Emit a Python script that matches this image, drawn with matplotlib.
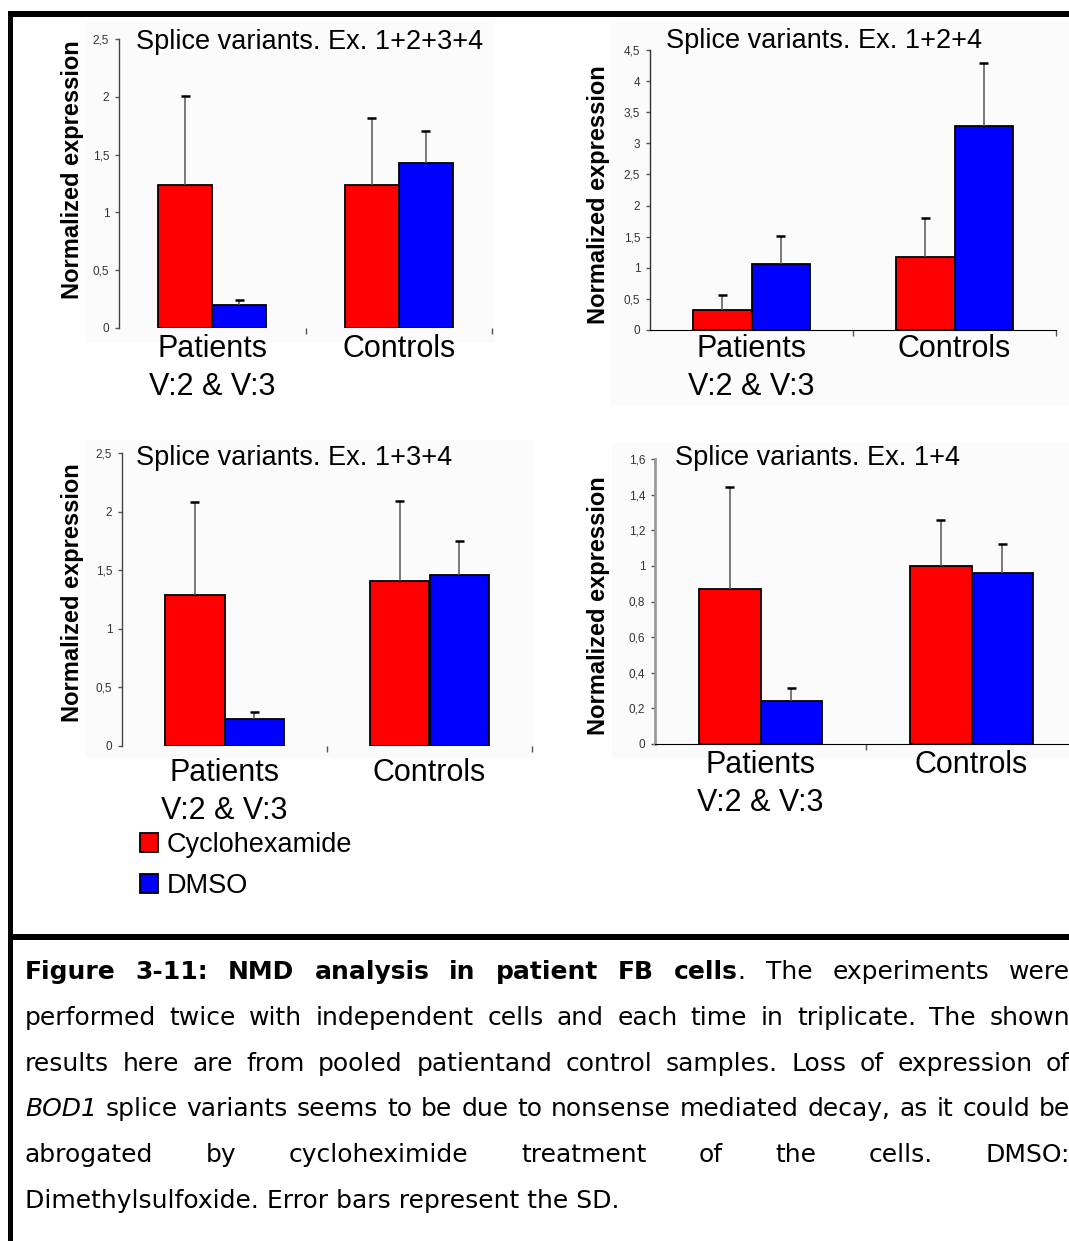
import numpy as np
import matplotlib.pyplot as plt
from matplotlib.patches import Rectangle
from matplotlib.transforms import offset_copy

W, H = 1069, 1241
plt.rcParams['font.family'] = 'Liberation Sans'

groups = ['Patients\nV:2 & V:3', 'Controls']
treatments = ['Cyclohexamide', 'DMSO']
bar_colors = ['#ff0000', '#0000ff']

titles = ['Splice variants. Ex. 1+2+3+4', 'Splice variants. Ex. 1+2+4',
          'Splice variants. Ex. 1+3+4', 'Splice variants. Ex. 1+4']

# normalized expression, mean and SD, order: Patients, Controls
chx_1234 = [1.24, 1.24]
chx_1234_sd = [0.77, 0.58]
dmso_1234 = [0.20, 1.43]
dmso_1234_sd = [0.04, 0.27]

chx_124 = [0.32, 1.18]
chx_124_sd = [0.24, 0.62]
dmso_124 = [1.06, 3.28]
dmso_124_sd = [0.45, 1.01]

chx_134 = [1.29, 1.41]
chx_134_sd = [0.79, 0.68]
dmso_134 = [0.23, 1.46]
dmso_134_sd = [0.06, 0.29]

chx_14 = [0.87, 1.00]
chx_14_sd = [0.57, 0.26]
dmso_14 = [0.24, 0.96]
dmso_14_sd = [0.075, 0.165]

ticks_25 = [0, 0.5, 1, 1.5, 2, 2.5]
ticklabels_25 = ['0', '0,5', '1', '1,5', '2', '2,5']
ticks_45 = [0, 0.5, 1, 1.5, 2, 2.5, 3, 3.5, 4, 4.5]
ticklabels_45 = ['0', '0,5', '1', '1,5', '2', '2,5', '3', '3,5', '4', '4,5']
ticks_16 = [0, 0.2, 0.4, 0.6, 0.8, 1, 1.2, 1.4, 1.6]
ticklabels_16 = ['0', '0,2', '0,4', '0,6', '0,8', '1', '1,2', '1,4', '1,6']

caption = [
    [("Figure 3-11: NMD analysis in patient FB cells", 'bold', 'normal'),
     (". The experiments were", 'normal', 'normal')],
    [("performed twice with independent cells and each time in triplicate. The shown", 'normal', 'normal')],
    [("results here are from pooled patientand control samples. Loss of expression of", 'normal', 'normal')],
    [("BOD1", 'normal', 'italic'),
     (" splice variants seems to be due to nonsense mediated decay, as it could be", 'normal', 'normal')],
    [("abrogated by cycloheximide treatment of the cells. DMSO:", 'normal', 'normal')],
    [("Dimethylsulfoxide. Error bars represent the SD.", 'normal', 'normal')],
]

fig = plt.figure(figsize=(W / 100, H / 100), dpi=100)
fig.patch.set_facecolor('white')


def fx(x):
    return x / W


def fy(y):
    return 1 - y / H


def page_rect(x0, y0, x1, y1, color, z=0):
    fig.add_artist(Rectangle((fx(x0), fy(y1)), (x1 - x0) / W, (y1 - y0) / H,
                             transform=fig.transFigure, facecolor=color,
                             edgecolor='none', zorder=z))


# faint grey backgrounds of the pasted charts
page_rect(85, 22, 495, 343, '#fbfbfb')
page_rect(610, 22, 1069, 405, '#fbfbfb')
page_rect(85, 440, 535, 758, '#fbfbfb')
page_rect(612, 443, 1069, 758, '#fbfbfb')

# frame lines of the page
page_rect(8, 11, 1069, 17, 'black', 5)
page_rect(8, 11, 13, 1241, 'black', 5)
page_rect(8, 934, 1069, 940, 'black', 5)


def draw_panel(box, chx, chx_sd, dmso, dmso_sd, ticks, ticklabels, title,
               title_xy, ylab_xy, lab_dy, xline, spine_color, spine_w):
    l, r, t, b = box
    ax = fig.add_axes([fx(l), fy(b), (r - l) / W, (b - t) / H])
    ax.patch.set_visible(False)
    ax.set_xlim(-0.5, 1.5)
    ax.set_ylim(ticks[0], ticks[-1])
    x = np.arange(len(groups))
    w = 0.29
    cap = 4.5 / (r - l) * 2
    handles = []
    for k, (vals, sds) in enumerate([(chx, chx_sd), (dmso, dmso_sd)]):
        xpos = x + (k - 0.5) * w
        bars = ax.bar(xpos, vals, w, color=bar_colors[k], edgecolor='black',
                      linewidth=1.3, zorder=2)
        tops = np.array(vals) + np.array(sds)
        ax.vlines(xpos, vals, tops, color='#555555', linewidth=1.1, zorder=3)
        ax.hlines(tops, xpos - cap, xpos + cap, color='black', linewidth=1.8, zorder=3)
        handles.append(bars)

    for s in ['top', 'right']:
        ax.spines[s].set_visible(False)
    ax.spines['left'].set_color(spine_color)
    ax.spines['left'].set_linewidth(spine_w)
    ax.spines['bottom'].set_visible(xline)
    ax.spines['bottom'].set_color('black')

    ax.set_yticks(ticks, ticklabels)
    ax.tick_params(axis='y', length=3, width=1, color='#555555', pad=4,
                   labelsize=8.5, labelcolor='#333333')
    ax.set_xticks([0.5, 1.5], ['', ''])
    ax.tick_params(axis='x', length=4, width=1, color='#555555')

    # category names, one text per line so the first baseline is fixed
    for i, g in enumerate(groups):
        for j, line in enumerate(g.split('\n')):
            tr = offset_copy(ax.get_xaxis_transform(), fig=fig,
                             y=-(lab_dy + 38 * j), units='dots')
            ax.text(i, 0, line, transform=tr, ha='center', va='baseline', fontsize=22)

    fig.text(fx(title_xy[0]), fy(title_xy[1]), title, ha='left', va='baseline',
             fontsize=19.5)
    fig.text(fx(ylab_xy[0]), fy(ylab_xy[1]), 'Normalized expression', rotation=90,
             ha='center', va='center', fontsize=17, fontweight='bold')
    return handles


draw_panel((119, 492, 39, 328), chx_1234, chx_1234_sd, dmso_1234, dmso_1234_sd,
           ticks_25, ticklabels_25, titles[0], (136, 49), (73, 170), 29,
           False, '#444444', 1.0)
draw_panel((650, 1056, 50, 330), chx_124, chx_124_sd, dmso_124, dmso_124_sd,
           ticks_45, ticklabels_45, titles[1], (666, 48), (598, 195), 27,
           True, '#333333', 1.0)
leg_handles = draw_panel((122, 532, 453, 746), chx_134, chx_134_sd, dmso_134, dmso_134_sd,
                         ticks_25, ticklabels_25, titles[2], (136, 465), (72, 593), 35,
                         False, '#444444', 1.0)
draw_panel((655, 1077, 459, 744), chx_14, chx_14_sd, dmso_14, dmso_14_sd,
           ticks_16, ticklabels_16, titles[3], (675, 465), (598, 606), 29,
           True, '#999999', 2.0)

fig.legend(leg_handles, treatments, loc='upper left',
           bbox_to_anchor=(fx(140), fy(832)), frameon=False, fontsize=19.5,
           handlelength=0.68, handleheight=0.68, handletextpad=0.3,
           labelspacing=0.55, borderpad=0, borderaxespad=0)

# justified caption below the charts
renderer = fig.canvas.get_renderer()
cap_left, cap_right = 25, 1070
cap_base, cap_step = 979, 45.8
cap_size = 18


def tokens(segments):
    toks = []
    new = True
    for txt, weight, style in segments:
        for j, p in enumerate(txt.split(' ')):
            if j > 0:
                new = True
            if p == '':
                continue
            if new:
                toks.append([])
                new = False
            toks[-1].append((p, weight, style))
    return toks


def piece(x, y, txt, weight, style):
    return fig.text(fx(x), fy(y), txt, ha='left', va='baseline', family='DejaVu Sans',
                    fontsize=cap_size, fontweight=weight, fontstyle=style)


for n, segments in enumerate(caption):
    y = cap_base + n * cap_step
    if n == len(caption) - 1:
        piece(cap_left, y, segments[0][0], segments[0][1], segments[0][2])
        continue
    toks = tokens(segments)
    drawn = []
    total = 0
    for tok in toks:
        arts = []
        wtok = 0
        for txt, weight, style in tok:
            a = piece(0, y, txt, weight, style)
            wa = a.get_window_extent(renderer).width
            arts.append((a, wa))
            wtok += wa
        drawn.append(arts)
        total += wtok
    gap = (cap_right - cap_left - total) / (len(toks) - 1)
    xcur = cap_left
    for arts in drawn:
        for a, wa in arts:
            a.set_x(fx(xcur))
            xcur += wa
        xcur += gap

fig.savefig('out.png', dpi=100)
